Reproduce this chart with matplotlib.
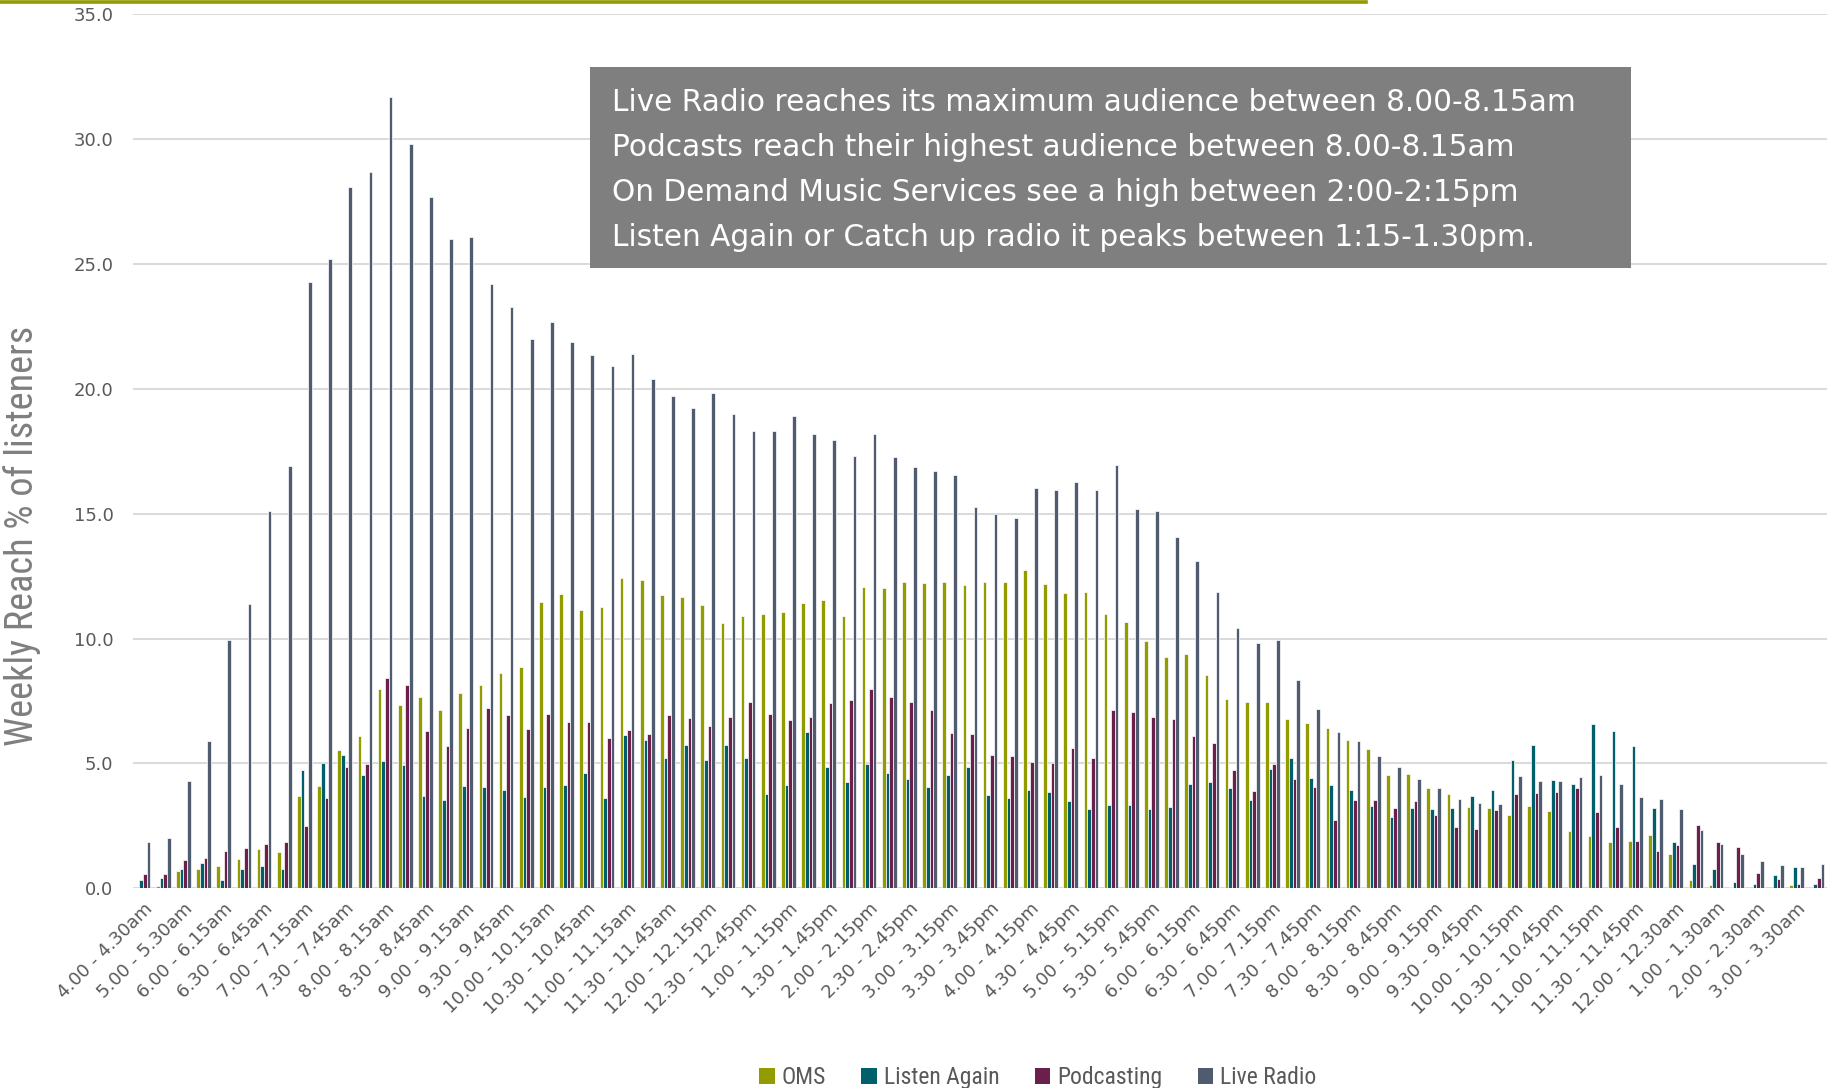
import matplotlib.pyplot as plt
from matplotlib.patches import Patch, Rectangle
from matplotlib.lines import Line2D
import numpy as np

# time slots (30 min early morning / after midnight, 15 min in between)
slots = [
    "4.00 - 4.30am", "4.30 - 5.00am", "5.00 - 5.30am", "5.30 - 6.00am",
    "6.00 - 6.15am", "6.15 - 6.30am", "6.30 - 6.45am", "6.45 - 7.00am",
    "7.00 - 7.15am", "7.15 - 7.30am", "7.30 - 7.45am", "7.45 - 8.00am",
    "8.00 - 8.15am", "8.15 - 8.30am", "8.30 - 8.45am", "8.45 - 9.00am",
    "9.00 - 9.15am", "9.15 - 9.30am", "9.30 - 9.45am", "9.45 - 10.00am",
    "10.00 - 10.15am", "10.15 - 10.30am", "10.30 - 10.45am", "10.45 - 11.00am",
    "11.00 - 11.15am", "11.15 - 11.30am", "11.30 - 11.45am", "11.45 - 12.00pm",
    "12.00 - 12.15pm", "12.15 - 12.30pm", "12.30 - 12.45pm", "12.45 - 1.00pm",
    "1.00 - 1.15pm", "1.15 - 1.30pm", "1.30 - 1.45pm", "1.45 - 2.00pm",
    "2.00 - 2.15pm", "2.15 - 2.30pm", "2.30 - 2.45pm", "2.45 - 3.00pm",
    "3.00 - 3.15pm", "3.15 - 3.30pm", "3.30 - 3.45pm", "3.45 - 4.00pm",
    "4.00 - 4.15pm", "4.15 - 4.30pm", "4.30 - 4.45pm", "4.45 - 5.00pm",
    "5.00 - 5.15pm", "5.15 - 5.30pm", "5.30 - 5.45pm", "5.45 - 6.00pm",
    "6.00 - 6.15pm", "6.15 - 6.30pm", "6.30 - 6.45pm", "6.45 - 7.00pm",
    "7.00 - 7.15pm", "7.15 - 7.30pm", "7.30 - 7.45pm", "7.45 - 8.00pm",
    "8.00 - 8.15pm", "8.15 - 8.30pm", "8.30 - 8.45pm", "8.45 - 9.00pm",
    "9.00 - 9.15pm", "9.15 - 9.30pm", "9.30 - 9.45pm", "9.45 - 10.00pm",
    "10.00 - 10.15pm", "10.15 - 10.30pm", "10.30 - 10.45pm", "10.45 - 11.00pm",
    "11.00 - 11.15pm", "11.15 - 11.30pm", "11.30 - 11.45pm", "11.45 - 12.00am",
    "12.00 - 12.30am", "12.30 - 1.00am", "1.00 - 1.30am", "1.30 - 2.00am",
    "2.00 - 2.30am", "2.30 - 3.00am", "3.00 - 3.30am", "3.30 - 4.00am",
]

oms = [
    0.0, 0.09, 0.69, 0.77, 0.88, 1.17, 1.56, 1.46, 3.7, 4.1, 5.54, 6.09,
    7.97, 7.34, 7.68, 7.12, 7.82, 8.14, 8.61, 8.85, 11.47, 11.78, 11.15, 11.27,
    12.43, 12.34, 11.75, 11.66, 11.36, 10.61, 10.91, 10.99, 11.08, 11.44, 11.55, 10.89,
    12.06, 12.03, 12.26, 12.23, 12.27, 12.14, 12.26, 12.28, 12.76, 12.18, 11.82, 11.86,
    10.99, 10.67, 9.89, 9.25, 9.4, 8.54, 7.57, 7.45, 7.45, 6.78, 6.62, 6.4,
    5.93, 5.57, 4.53, 4.59, 4.03, 3.78, 3.26, 3.22, 2.95, 3.3, 3.11, 2.28,
    2.1, 1.86, 1.91, 2.14, 1.38, 0.35, 0.12, 0.05, 0.0, 0.0, 0.12, 0.0,
]
listen_again = [
    0.33, 0.4, 0.77, 1.0, 0.33, 0.77, 0.9, 0.77, 4.74, 5.02, 5.33, 4.53,
    5.1, 4.93, 3.68, 3.52, 4.09, 4.05, 3.93, 3.66, 4.05, 4.13, 4.63, 3.6,
    6.15, 5.95, 5.22, 5.75, 5.15, 5.73, 5.21, 3.77, 4.13, 6.26, 4.87, 4.26,
    4.98, 4.63, 4.38, 4.07, 4.53, 4.85, 3.75, 3.63, 3.93, 3.87, 3.5, 3.18,
    3.32, 3.35, 3.18, 3.24, 4.18, 4.26, 4.0, 3.54, 4.78, 5.21, 4.42, 4.13,
    3.95, 3.31, 2.87, 3.2, 3.16, 3.2, 3.7, 3.95, 5.15, 5.75, 4.34, 4.17,
    6.56, 6.28, 5.7, 3.2, 1.84, 0.97, 0.76, 0.27, 0.16, 0.53, 0.87, 0.16,
]
podcasting = [
    0.57, 0.56, 1.13, 1.2, 1.48, 1.63, 1.79, 1.86, 2.5, 3.63, 4.85, 4.98,
    8.42, 8.13, 6.29, 5.7, 6.4, 7.21, 6.94, 6.36, 6.98, 6.65, 6.65, 6.02,
    6.34, 6.18, 6.93, 6.82, 6.48, 6.85, 7.46, 6.98, 6.74, 6.84, 7.42, 7.54,
    8.0, 7.66, 7.48, 7.14, 6.23, 6.18, 5.34, 5.29, 5.06, 5.02, 5.62, 5.23,
    7.14, 7.04, 6.85, 6.78, 6.11, 5.82, 4.74, 3.89, 4.98, 4.38, 4.07, 2.75,
    3.55, 3.52, 3.2, 3.51, 2.92, 2.44, 2.36, 3.14, 3.78, 3.83, 3.87, 4.03,
    3.06, 2.46, 1.91, 1.48, 1.74, 2.55, 1.84, 1.64, 0.61, 0.36, 0.17, 0.4,
]
live_radio = [
    1.84, 2.02, 4.31, 5.89, 9.95, 11.38, 15.1, 16.9, 24.3, 25.2, 28.1, 28.7,
    31.7, 29.8, 27.7, 26.0, 26.1, 24.2, 23.3, 22.0, 22.7, 21.9, 21.34, 20.9,
    21.38, 20.39, 19.72, 19.24, 19.85, 18.99, 18.32, 18.32, 18.92, 18.18, 17.95, 17.33,
    18.18, 17.29, 16.86, 16.7, 16.57, 15.29, 15.01, 14.84, 16.05, 15.94, 16.26, 15.97,
    16.94, 15.21, 15.12, 14.06, 13.1, 11.87, 10.41, 9.82, 9.95, 8.33, 7.16, 6.25,
    5.89, 5.29, 4.85, 4.39, 4.02, 3.59, 3.4, 3.39, 4.51, 4.3, 4.3, 4.45,
    4.55, 4.19, 3.66, 3.56, 3.18, 2.32, 1.76, 1.38, 1.11, 0.92, 0.85, 0.96,
]

series = ["OMS", "Listen Again", "Podcasting", "Live Radio"]
colors = ["#929B00", "#005F6B", "#6B1F4B", "#4F5B6E"]
notes = [
    "Live Radio reaches its maximum audience between 8.00-8.15am",
    "Podcasts reach their highest audience between 8.00-8.15am",
    "On Demand Music Services see a high between 2:00-2:15pm",
    "Listen Again or Catch up radio it peaks between 1:15-1.30pm.",
]
narrow = ['Liberation Sans Narrow', 'Roboto Condensed', 'Lato']

fig = plt.figure(figsize=(18.37, 10.88), dpi=100)
ax = fig.add_axes([0.0724, 0.1836, 0.9222, 0.8031])

x = np.arange(len(slots))
w = 0.182
for i, (vals, c, name) in enumerate(zip([oms, listen_again, podcasting, live_radio], colors, series)):
    ax.bar(x + (i - 1.5) * w, vals, width=w, color=c, edgecolor='white',
           linewidth=0.5, label=name, zorder=3)

ax.set_xlim(-0.5, len(slots) - 0.5)
ax.set_ylim(0, 35)
ax.set_yticks(np.arange(0, 36, 5))
ax.set_yticklabels([f"{v:.1f}" for v in np.arange(0, 36, 5)])
ax.yaxis.grid(True, color='#D9D9D9', linewidth=1.4, zorder=0)
ax.set_axisbelow(True)
for s in ax.spines.values():
    s.set_visible(False)
ax.axhline(0, color='#D9D9D9', linewidth=2, zorder=2)
ax.tick_params(axis='both', length=0, labelsize=13, labelcolor='#595959')
ax.tick_params(axis='y', pad=14)

ax.set_xticks(x[::2])
ax.set_xticklabels(slots[::2], rotation=45, ha='right', rotation_mode='anchor')
ax.tick_params(axis='x', pad=8)

fig.text(0.012, 0.5075, "Weekly Reach % of listeners", rotation=90, fontsize=27.5,
         color='#7F7F7F', family=narrow, ha='center', va='center')

# note box
fig.add_artist(Rectangle((0.3212, 0.7537), 0.5665, 0.1847, transform=fig.transFigure,
                         facecolor='#7F7F7F', edgecolor='none', zorder=5))
for k, line in enumerate(notes):
    fig.text(0.3332, 0.9058 - k * 0.0413, line, color='white', fontsize=21.3,
             va='center', ha='left', zorder=6)

# olive rule at top
fig.add_artist(Line2D([0, 0.7435], [0.9985, 0.9985], transform=fig.transFigure,
                      color='#929B00', linewidth=2.6))

handles = [Patch(facecolor=c, edgecolor='none') for c in colors]
fig.legend(handles, series, loc='center', bbox_to_anchor=(0.565, 0.0095), ncol=4,
           frameon=False, handlelength=0.65, handleheight=0.65, handletextpad=0.3,
           columnspacing=1.5, prop={'family': narrow, 'size': 17},
           labelcolor='#595959')

fig.savefig("out.png", dpi=100)
